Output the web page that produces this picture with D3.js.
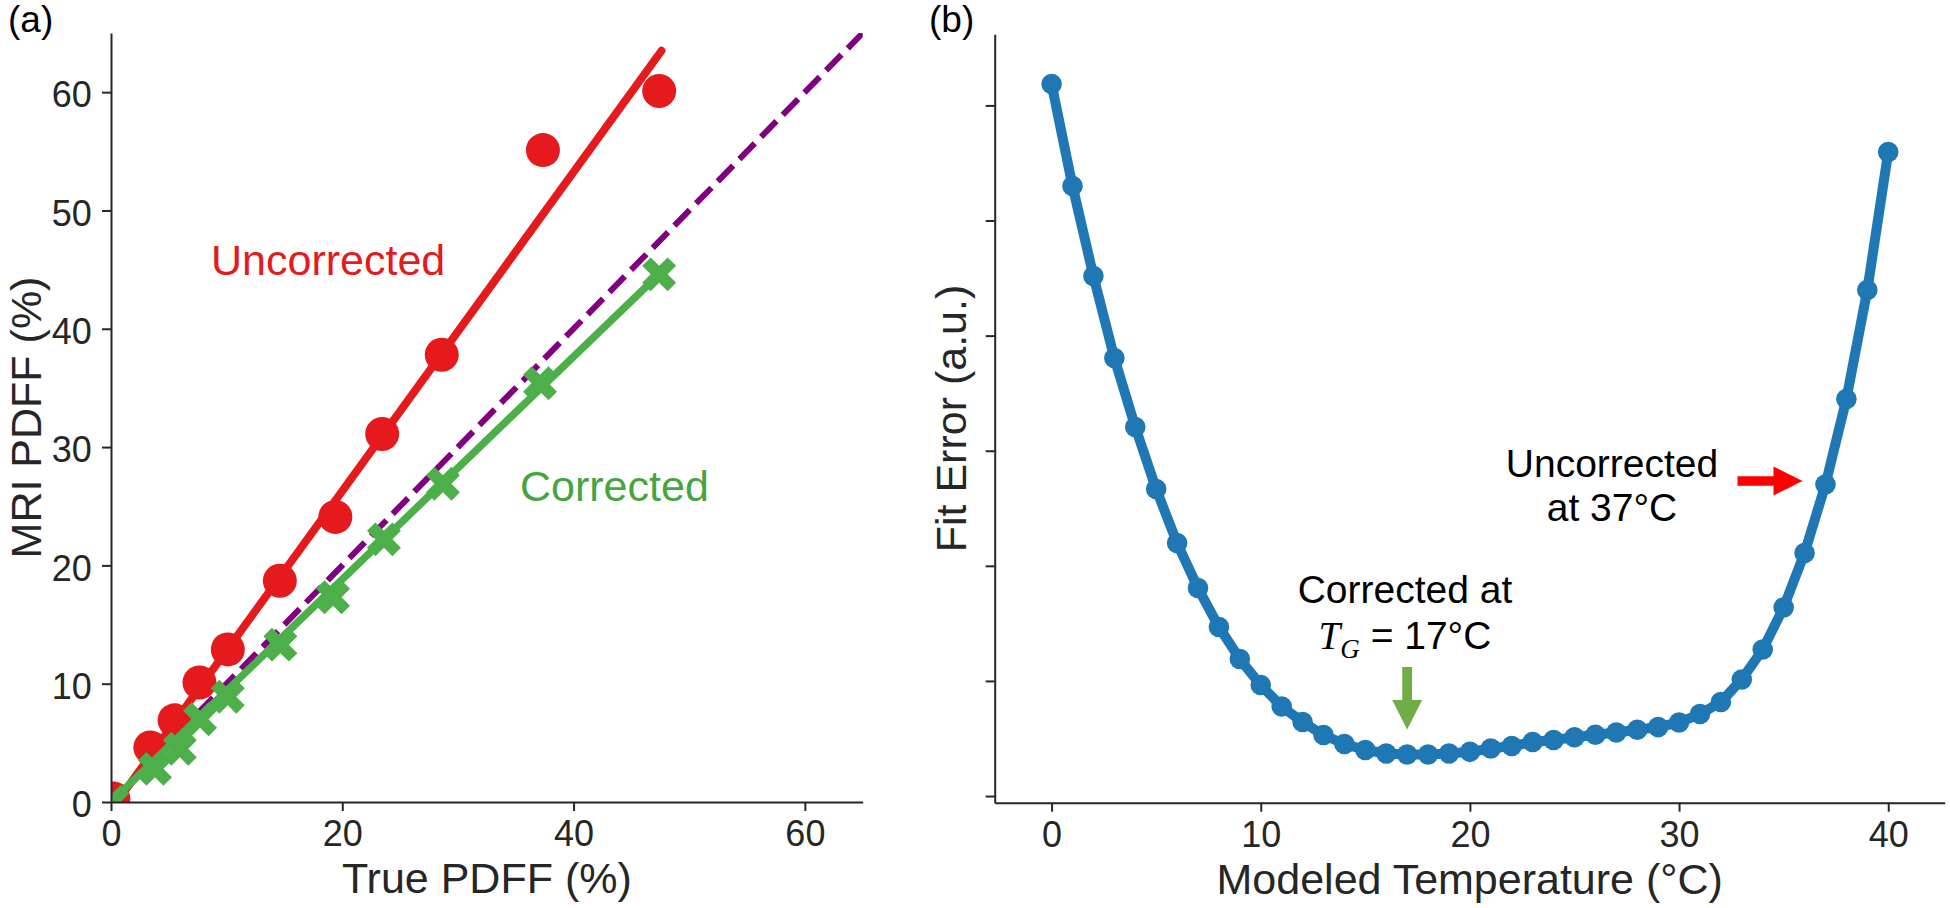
<!DOCTYPE html>
<html><head><meta charset="utf-8">
<script src="https://cdn.jsdelivr.net/npm/d3@7"></script>
<style>
body{margin:0;background:#fff}
svg{display:block}
text{font-family:"Liberation Sans",Arial,Helvetica,sans-serif}
</style>
</head><body>
<svg id="chart" width="1950" height="908"></svg>
<script>
// ---------- Panel (a) data ----------
const truePdffUncorr = [0.2, 3.4, 5.5, 7.65, 10.1, 14.6, 19.4, 23.45, 28.6, 37.35, 47.4];
const mriPdffUncorr  = [0.3, 4.6, 6.9, 10.1, 12.9, 18.7, 24.1, 31.1, 37.8, 55.1, 60.1];
const truePdffCorr   = [0.1, 3.8, 5.95, 7.7, 10.1, 14.65, 19.2, 23.6, 28.7, 37.1, 47.4];
const mriPdffCorr    = [0.0, 2.8, 4.5, 7.0, 8.9, 13.3, 17.3, 22.2, 26.9, 35.4, 44.6];
const fitUncorrX = [0.5, 47.6];
const fitUncorrY = [0.0, 63.5];
const fitCorrX   = [0.0, 47.6];
const fitCorrY   = [0.0, 44.8];
const identityX  = [0, 65];
const identityY  = [0, 65];
const ticksAx = [0, 20, 40, 60];
const ticksAy = [0, 10, 20, 30, 40, 50, 60];

// ---------- Panel (b) data ----------
const temps = [0,1,2,3,4,5,6,7,8,9,10,11,12,13,14,15,16,17,18,19,20,
               21,22,23,24,25,26,27,28,29,30,31,32,33,34,35,36,37,38,39,40];
const fitError = [6.186,5.300,4.518,3.805,3.206,2.667,2.198,1.807,1.468,1.190,0.964,
                  0.778,0.643,0.530,0.452,0.400,0.369,0.361,0.361,0.369,0.384,
                  0.413,0.434,0.469,0.487,0.510,0.533,0.552,0.576,0.599,0.639,
                  0.712,0.817,1.013,1.273,1.638,2.111,2.706,3.449,4.396,5.595];
const ticksBx = [0, 10, 20, 30, 40];
const ticksBy = [0, 1, 2, 3, 4, 5, 6];
const tGuess = 17, tUncorr = 37;

// ---------- styles ----------
const RED = "#e41a1c", GREEN = "#4daf4a", PURPLE = "#800080", BLUE = "#1f77b4";
const AXC = "#262626";
const svg = d3.select("#chart");

// ---------- scales ----------
const xA = d3.scaleLinear().domain([0, 65]).range([111, 862.7]);
const yA = d3.scaleLinear().domain([0, 65]).range([802, 33]);
const xB = d3.scaleLinear().domain([-2.72, 42.7]).range([994.7, 1944.7]);
const yB = d3.scaleLinear().domain([-0.058, 6.618]).range([802.7, 34.3]);

function styleAxis(g){
  g.select(".domain").attr("stroke", AXC).attr("stroke-width", 2);
  g.selectAll(".tick line").attr("stroke", AXC).attr("stroke-width", 2);
  g.selectAll(".tick text").attr("fill", AXC).attr("font-size", 36)
   .attr("font-family", '"Liberation Sans",Arial,sans-serif');
}

// ================= Panel (a) =================
svg.append("defs").append("clipPath").attr("id","clipA")
  .append("rect").attr("x", xA(0)).attr("y", yA(65))
  .attr("width", xA(65)-xA(0)).attr("height", yA(0)-yA(65));

const gA = svg.append("g").attr("clip-path","url(#clipA)");
const lineA = d3.line().x(d=>xA(d[0])).y(d=>yA(d[1]));

// identity (dashed)
gA.append("path").datum(d3.zip(identityX, identityY))
  .attr("d", lineA).attr("fill","none").attr("stroke", PURPLE)
  .attr("stroke-width", 6).attr("stroke-dasharray","22,9");

// uncorrected
gA.append("path").datum(d3.zip(fitUncorrX, fitUncorrY))
  .attr("d", lineA).attr("fill","none").attr("stroke", RED)
  .attr("stroke-width", 8).attr("stroke-linecap","round");
gA.selectAll("circle.unc").data(d3.zip(truePdffUncorr, mriPdffUncorr)).join("circle")
  .attr("class","unc").attr("cx", d=>xA(d[0])).attr("cy", d=>yA(d[1]))
  .attr("r", 17).attr("fill", RED);

// corrected
gA.append("path").datum(d3.zip(fitCorrX, fitCorrY))
  .attr("d", lineA).attr("fill","none").attr("stroke", GREEN)
  .attr("stroke-width", 7.5).attr("stroke-linecap","round");
const xSym = d3.symbol().type(d3.symbolCross).size(720);
gA.selectAll("path.cor").data(d3.zip(truePdffCorr, mriPdffCorr)).join("path")
  .attr("class","cor").attr("d", xSym)
  .attr("transform", d=>`translate(${xA(d[0])},${yA(d[1])}) rotate(45)`)
  .attr("fill", GREEN);

// axes (a)
svg.append("g").attr("transform", `translate(0,${yA(0)})`)
  .call(d3.axisBottom(xA).tickValues(ticksAx).tickSize(9).tickPadding(9.5).tickSizeOuter(0))
  .call(styleAxis);
svg.append("g").attr("transform", `translate(${xA(0)},0)`)
  .call(d3.axisLeft(yA).tickValues(ticksAy).tickSize(9).tickPadding(10.3).tickSizeOuter(0))
  .call(styleAxis)
  .call(g=>g.selectAll(".tick text").attr("dy","0.41em"));

// labels (a)
svg.append("text").attr("x", (xA(0)+xA(65))/2).attr("y", 893)
  .attr("text-anchor","middle").attr("font-size",43).attr("fill",AXC).text("True PDFF (%)");
svg.append("text").attr("transform", `translate(41,${(yA(0)+yA(65))/2}) rotate(-90)`)
  .attr("text-anchor","middle").attr("font-size",43).attr("fill",AXC).text("MRI PDFF (%)");
svg.append("text").attr("x", 211).attr("y", 275).attr("font-size",43)
  .attr("fill", RED).text("Uncorrected");
svg.append("text").attr("x", 520).attr("y", 501).attr("font-size",43)
  .attr("fill", "#45a540").text("Corrected");
svg.append("text").attr("x", 8).attr("y", 32).attr("font-size",37)
  .attr("fill","#000").text("(a)");

// ================= Panel (b) =================
const lineB = d3.line().x((d,i)=>xB(temps[i])).y(d=>yB(d));
svg.append("path").datum(fitError).attr("d", lineB)
  .attr("fill","none").attr("stroke", BLUE).attr("stroke-width", 10)
  .attr("stroke-linejoin","round");
svg.selectAll("circle.fe").data(fitError).join("circle")
  .attr("class","fe").attr("cx",(d,i)=>xB(temps[i])).attr("cy", d=>yB(d))
  .attr("r", 10.3).attr("fill", BLUE);

svg.append("g").attr("transform", `translate(0,${yB.range()[0]})`)
  .call(d3.axisBottom(xB).tickValues(ticksBx).tickSize(9).tickPadding(9.5).tickSizeOuter(0))
  .call(styleAxis);
svg.append("g").attr("transform", `translate(${xB.range()[0]},0)`)
  .call(d3.axisLeft(yB).tickValues(ticksBy).tickFormat(()=> "").tickSize(9).tickSizeOuter(0))
  .call(styleAxis);

svg.append("text").attr("x", (xB.range()[0]+xB.range()[1])/2).attr("y", 894)
  .attr("text-anchor","middle").attr("font-size",43).attr("fill",AXC).text("Modeled Temperature (°C)");
svg.append("text").attr("transform", `translate(966,${(yB.range()[0]+yB.range()[1])/2}) rotate(-90)`)
  .attr("text-anchor","middle").attr("font-size",43).attr("fill",AXC).text("Fit Error (a.u.)");
svg.append("text").attr("x", 929).attr("y", 32).attr("font-size",37)
  .attr("fill","#000").text("(b)");

// annotations (b)
const gx = xB(tGuess), gy = yB(fitError[temps.indexOf(tGuess)]) - 25;
svg.append("path")
  .attr("d", `M${gx-4.9},${gy-62.5} L${gx+4.9},${gy-62.5} L${gx+4.9},${gy-29.5} L${gx+15},${gy-29.5} L${gx},${gy} L${gx-15},${gy-29.5} L${gx-4.9},${gy-29.5} Z`)
  .attr("fill", "#70ad47");
const ux = xB(tUncorr) - 23, uy = yB(fitError[temps.indexOf(tUncorr)]) - 3.5;
svg.append("path")
  .attr("d", `M${ux-65},${uy-4.7} L${ux-29},${uy-4.7} L${ux-29},${uy-14.5} L${ux},${uy} L${ux-29},${uy+14.5} L${ux-29},${uy+4.7} L${ux-65},${uy+4.7} Z`)
  .attr("fill", "#ff0000");

svg.append("text").attr("x", 1612).attr("y", 477).attr("text-anchor","middle")
  .attr("font-size",39).attr("fill","#000").text("Uncorrected");
svg.append("text").attr("x", 1612).attr("y", 521).attr("text-anchor","middle")
  .attr("font-size",39).attr("fill","#000").text("at 37°C");
svg.append("text").attr("x", 1405).attr("y", 603).attr("text-anchor","middle")
  .attr("font-size",39).attr("fill","#000").text("Corrected at");
const tg = svg.append("text").attr("x", 1405).attr("y", 649).attr("text-anchor","middle")
  .attr("font-size",39).attr("fill","#000");
tg.append("tspan").attr("font-family",'"Liberation Serif","DejaVu Serif",serif')
  .attr("font-style","italic").text("T");
tg.append("tspan").attr("font-family",'"Liberation Serif","DejaVu Serif",serif')
  .attr("font-style","italic").attr("font-size",27).attr("dy",9).text("G");
tg.append("tspan").attr("dy",-9).text(" = 17°C");
</script>
</body></html>
